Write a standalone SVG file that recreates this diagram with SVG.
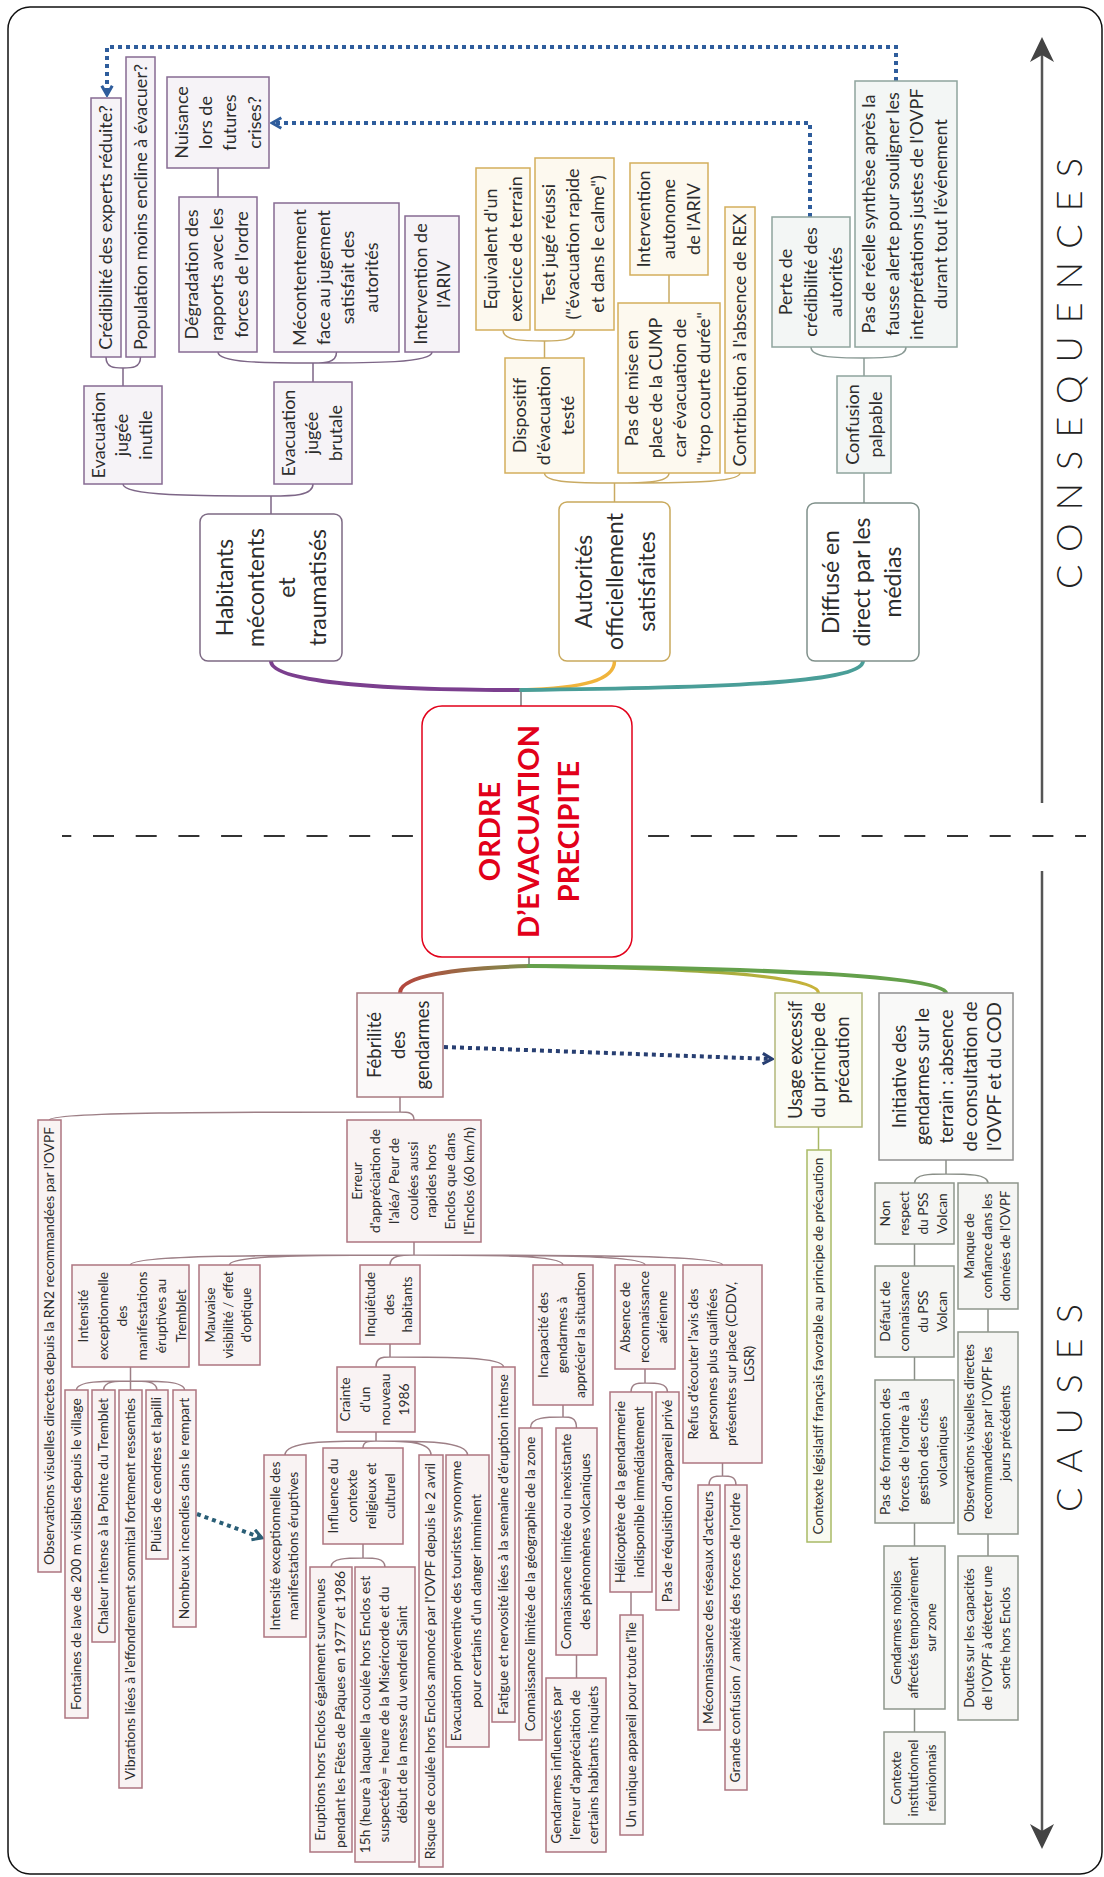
<svg xmlns="http://www.w3.org/2000/svg" width="1104" height="1877" viewBox="0 0 1104 1877">
<defs>
<style>
text{font-family:Lato,'Open Sans',sans-serif;fill:#2d2d2d;text-anchor:middle}
.t1{font-size:23px}
.t2{font-size:18px}
.k1{font-size:18.5px}
.k2{font-size:13.8px}
.k3{font-size:13.2px}
.ttl{font-size:29px;font-weight:700;fill:#e2001a}
.big{font-size:36px;font-weight:300;fill:#222}
rect{stroke-width:1.5}
.b1{fill:#fff}
.bp{fill:#f6f3f7;stroke:#876b93}
.bo{fill:#fdf9ef;stroke:#d3ae5c}
.bg{fill:#f3f6f5;stroke:#8fa49d}
.br{fill:#f9f3f3;stroke:#ad7580}
.by{fill:#fafbf1;stroke:#a9ba66}
.bn{fill:#f5f5f3;stroke:#8e968c}
.ln path{fill:none;stroke-width:1.5}
.cp{stroke:#7d6687}
.co{stroke:#c9aa62}
.cg{stroke:#8a9a95}
.cr{stroke:#9d7f86}
.cy{stroke:#a9b866}
.cn{stroke:#8a8f88}
.dot{fill:none;stroke-width:4;stroke-dasharray:4 4}
</style>
<marker id="ahB" viewBox="0 0 12 12" refX="10" refY="6" markerWidth="14" markerHeight="14" markerUnits="userSpaceOnUse" orient="auto"><path d="M2,1.5 L10,6 L2,10.5" fill="none" stroke="#2f5d9c" stroke-width="2.6"/></marker>
<marker id="ahN" viewBox="0 0 12 12" refX="10" refY="6" markerWidth="14" markerHeight="14" markerUnits="userSpaceOnUse" orient="auto"><path d="M2,1.5 L10,6 L2,10.5" fill="none" stroke="#283f72" stroke-width="2.6"/></marker>
<marker id="ahT" viewBox="0 0 12 12" refX="10" refY="6" markerWidth="14" markerHeight="14" markerUnits="userSpaceOnUse" orient="auto"><path d="M2,1.5 L10,6 L2,10.5" fill="none" stroke="#2a5e76" stroke-width="2.6"/></marker>
<linearGradient id="gFeb" gradientUnits="userSpaceOnUse" x1="529" y1="0" x2="400" y2="0"><stop offset="0" stop-color="#7d8f4c"/><stop offset="1" stop-color="#b5463e"/></linearGradient>
<linearGradient id="gUs" gradientUnits="userSpaceOnUse" x1="529" y1="0" x2="818" y2="0"><stop offset="0" stop-color="#5f9f45"/><stop offset="1" stop-color="#c9b33a"/></linearGradient>
</defs>
<rect x="0" y="0" width="1104" height="1877" fill="#fff"/>
<rect x="8" y="7" width="1094" height="1867" rx="22" fill="none" stroke="#111" stroke-width="2.5"/>

<g id="axes">
<path d="M62,836 H1086" stroke="#333" stroke-width="2" stroke-dasharray="21 21.7" stroke-dashoffset="11.7" fill="none"/>
<path d="M1042,803 V55" stroke="#555" stroke-width="2.5" fill="none"/>
<polygon points="1042,37 1054,62 1042,55 1030,62" fill="#444"/>
<path d="M1042,871 V1831" stroke="#555" stroke-width="2.5" fill="none"/>
<polygon points="1042,1849 1030,1824 1042,1831 1054,1824" fill="#444"/>
<text class="big" transform="translate(1082 373.5) rotate(-90)" x="0" y="0" textLength="431" lengthAdjust="spacing">CONSEQUENCES</text>
<text class="big" transform="translate(1082 1408) rotate(-90)" x="0" y="0" textLength="208" lengthAdjust="spacing">CAUSES</text>
</g>

<g id="connectors">
<g class="ln">
<path class="cp" d="M271,514 V496 M271,496 C197,496 123,496 123,484 M271,496 C292,496 313,496 313,484"/>
<path class="cp" d="M123,386 V368 M123,368 C114.5,368 106,368 106,357 M123,368 C131.75,368 140.5,368 140.5,357"/>
<path class="cp" d="M313,382 V363 M313,363 C265.5,363 218,363 218,352 M313,363 C324.75,363 336.5,363 336.5,352 M313,363 C372.5,363 432,363 432,352"/>
<path class="cp" d="M218,197 V168"/>
<path class="co" d="M614.5,502 V483 M614.5,483 C579.5,483 544.5,483 544.5,473 M614.5,483 C641.75,483 669,483 669,473 M614.5,483 C677.25,483 740,483 740,473"/>
<path class="co" d="M544.5,358 V341 M544.5,341 C523.75,341 503,341 503,330 M544.5,341 C559.5,341 574.5,341 574.5,330"/>
<path class="co" d="M669,303 V275"/>
<path class="cg" d="M864,503 V473 M864,376 V358 M864,358 C837.5,358 811,358 811,347 M864,358 C885,358 906,358 906,347"/>
<path stroke="#777" d="M521,706 V690 M529,957 V966"/>
<path class="cr" d="M400,1097 V1112 M400,1112 C224.75,1112 49.5,1112 49.5,1120 M400,1112 C407,1112 414,1112 414,1120"/>
<path class="cr" d="M414,1242 V1255 M414,1255 C272.25,1255 130.5,1255 130.5,1265 M414,1255 C321.75,1255 229.5,1255 229.5,1265 M414,1255 C402,1255 390,1255 390,1265 M414,1255 C488.5,1255 563,1255 563,1265 M414,1255 C529.5,1255 645,1255 645,1265 M414,1255 C568.25,1255 722.5,1255 722.5,1265"/>
<path class="cr" d="M130.5,1367 V1390 M130.5,1381 C103.5,1381 76.5,1381 76.5,1390 M130.5,1381 C117,1381 103.5,1381 103.5,1390 M130.5,1381 C143.75,1381 157,1381 157,1390 M130.5,1381 C157.5,1381 184.5,1381 184.5,1390"/>
<path class="cr" d="M390,1344 V1357 M390,1357 C383,1357 376,1357 376,1367 M390,1357 C446.75,1357 503.5,1357 503.5,1367"/>
<path class="cr" d="M376,1432 V1441 M376,1441 C330.5,1441 285,1441 285,1455 M376,1441 C369.5,1441 363,1441 363,1448 M376,1441 C403.5,1441 431,1441 431,1455 M376,1441 C421.75,1441 467.5,1441 467.5,1455"/>
<path class="cr" d="M363,1544 V1558 M363,1558 C347,1558 331,1558 331,1567 M363,1558 C374,1558 385,1558 385,1567"/>
<path class="cr" d="M563,1405 V1417 M563,1417 C546.75,1417 530.5,1417 530.5,1428 M563,1417 C569.75,1417 576.5,1417 576.5,1428 M576.5,1655 V1678"/>
<path class="cr" d="M645,1369 V1383 M645,1383 C638,1383 631,1383 631,1392 M645,1383 C656.25,1383 667.5,1383 667.5,1392 M631,1592 V1615"/>
<path class="cr" d="M722.5,1463 V1476 M722.5,1476 C715.75,1476 709,1476 709,1485 M722.5,1476 C729.25,1476 736,1476 736,1485"/>
<path class="cy" d="M818.5,1127 V1150"/>
<path class="cn" d="M946,1160 V1174 M946,1174 C930.25,1174 914.5,1174 914.5,1183 M946,1174 C967,1174 988,1174 988,1183"/>
<path class="cn" d="M914.5,1244 V1266 M914.5,1357 V1380 M914.5,1523 V1546 M914.5,1709 V1732 M988,1309 V1332 M988,1534 V1556"/>
</g>
<g fill="none" stroke-linecap="round">
<path d="M521,690 C400,690 271,684 271,661" stroke="#7b3f8e" stroke-width="4"/>
<path d="M521,690 C585,688 614.5,680 614.5,661" stroke="#f0b43c" stroke-width="3.5"/>
<path d="M521,690 C700,688 863,684 863,661" stroke="#4a9e98" stroke-width="4"/>
<path d="M529,966 C455,968 400,976 400,993" stroke="url(#gFeb)" stroke-width="4"/>
<path d="M529,966 C700,968 818.5,976 818.5,993" stroke="url(#gUs)" stroke-width="3.5"/>
<path d="M529,966 C760,968 946,976 946,993" stroke="#64a04b" stroke-width="4"/>
</g>
<path class="dot" stroke="#2f5d9c" d="M896,81 V47 H107 V95" marker-end="url(#ahB)"/>
<path class="dot" stroke="#2f5d9c" d="M810,217 V123 H272" marker-end="url(#ahB)"/>
<path class="dot" stroke="#283f72" d="M444,1047 L772,1059" marker-end="url(#ahN)"/>
<path class="dot" stroke="#2a5e76" d="M197,1514 L262,1538" marker-end="url(#ahT)"/>
</g>

<g id="n-center"><rect x="422" y="706" width="210" height="251" rx="20" fill="#fff" stroke="#e2001a" stroke-width="3.5"/><text class="ttl" transform="rotate(-90 527 831.5)"><tspan x="527" y="804.9">ORDRE</tspan><tspan x="527" y="843.9">D’EVACUATION</tspan><tspan x="527" y="883.9">PRECIPITE</tspan></text></g>

<g id="c-habitants"><rect class="b1" x="200" y="514" width="142" height="147" rx="8" stroke="#7d6a84"/><text class="t1" transform="rotate(-90 271 587.5)"><tspan x="271" y="549.5">Habitants</tspan><tspan x="271" y="580.5">mécontents</tspan><tspan x="271" y="611.5">et</tspan><tspan x="271" y="642.5">traumatisés</tspan></text></g>
<g id="c-autorites"><rect class="b1" x="559" y="502" width="111" height="159" rx="8" stroke="#c9a95c"/><text class="t1" transform="rotate(-90 614.5 581.5)"><tspan x="614.5" y="559">Autorités</tspan><tspan x="614.5" y="590">officiellement</tspan><tspan x="614.5" y="622">satisfaites</tspan></text></g>
<g id="c-diffuse"><rect class="b1" x="807" y="503" width="112" height="158" rx="8" stroke="#7f908a"/><text class="t1" transform="rotate(-90 863 582)"><tspan x="863" y="558">Diffusé en</tspan><tspan x="863" y="589">direct par les</tspan><tspan x="863" y="620">médias</tspan></text></g>

<g id="p-inutile"><rect class="bp" x="84" y="386" width="78" height="98"/><text class="t2" transform="rotate(-90 123 435)"><tspan x="123" y="416.5">Evacuation</tspan><tspan x="123" y="440">jugée</tspan><tspan x="123" y="463.5">inutile</tspan></text></g>
<g id="p-credibilite"><rect class="bp" x="91" y="98" width="30" height="259"/><text class="t2" transform="rotate(-90 106 227.5)"><tspan x="106" y="233.2">Crédibilité des experts réduite?</tspan></text></g>
<g id="p-population"><rect class="bp" x="126" y="57" width="29" height="300"/><text class="t2" transform="rotate(-90 140.5 207)"><tspan x="140.5" y="213.2">Population moins encline à évacuer?</tspan></text></g>
<g id="p-nuisance"><rect class="bp" x="167" y="77" width="102" height="91"/><text class="t2" transform="rotate(-90 218 122.5)"><tspan x="218" y="92.2">Nuisance</tspan><tspan x="218" y="116.2">lors de</tspan><tspan x="218" y="140.2">futures</tspan><tspan x="218" y="165.2">crises?</tspan></text></g>
<g id="p-degradation"><rect class="bp" x="179" y="197" width="78" height="155"/><text class="t2" transform="rotate(-90 218 274.5)"><tspan x="218" y="254.2">Dégradation des</tspan><tspan x="218" y="279.2">rapports avec les</tspan><tspan x="218" y="304.2">forces de l'ordre</tspan></text></g>
<g id="p-mecontentement"><rect class="bp" x="274" y="203" width="125" height="149"/><text class="t2" transform="rotate(-90 336.5 277.5)"><tspan x="336.5" y="246.7">Mécontentement</tspan><tspan x="336.5" y="270.7">face au jugement</tspan><tspan x="336.5" y="294.7">satisfait des</tspan><tspan x="336.5" y="318.7">autorités</tspan></text></g>
<g id="p-ariv"><rect class="bp" x="405" y="216" width="54" height="136"/><text class="t2" transform="rotate(-90 432 284)"><tspan x="432" y="278.7">Intervention de</tspan><tspan x="432" y="301.7">l'ARIV</tspan></text></g>
<g id="p-brutale"><rect class="bp" x="274" y="382" width="78" height="102"/><text class="t2" transform="rotate(-90 313 433)"><tspan x="313" y="414.7">Evacuation</tspan><tspan x="313" y="437.7">jugée</tspan><tspan x="313" y="461.7">brutale</tspan></text></g>

<g id="o-exercice"><rect class="bo" x="476" y="168" width="54" height="162"/><text class="t2" transform="rotate(-90 503 249)"><tspan x="503" y="242.7">Equivalent d'un</tspan><tspan x="503" y="267.7">exercice de terrain</tspan></text></g>
<g id="o-test"><rect class="bo" x="535" y="158" width="79" height="172"/><text class="t2" transform="rotate(-90 574.5 244)"><tspan x="574.5" y="224.2">Test jugé réussi</tspan><tspan x="574.5" y="248.2">("évacuation rapide</tspan><tspan x="574.5" y="273.2">et dans le calme")</tspan></text></g>
<g id="o-dispositif"><rect class="bo" x="505" y="358" width="79" height="115"/><text class="t2" transform="rotate(-90 544.5 415.5)"><tspan x="544.5" y="396.7">Dispositif</tspan><tspan x="544.5" y="420.7">d'évacuation</tspan><tspan x="544.5" y="444.7">testé</tspan></text></g>
<g id="o-autonome"><rect class="bo" x="630" y="163" width="78" height="112"/><text class="t2" transform="rotate(-90 669 219)"><tspan x="669" y="199.7">Intervention</tspan><tspan x="669" y="224.7">autonome</tspan><tspan x="669" y="249.7">de l'ARIV</tspan></text></g>
<g id="o-cump"><rect class="bo" x="618" y="303" width="102" height="170"/><text class="t2" transform="rotate(-90 669 388)"><tspan x="669" y="356.7">Pas de mise en</tspan><tspan x="669" y="380.7">place de la CUMP</tspan><tspan x="669" y="404.7">car évacuation de</tspan><tspan x="669" y="428.7">"trop courte durée"</tspan></text></g>
<g id="o-rex"><rect class="bo" x="725" y="207" width="30" height="266"/><text class="t2" transform="rotate(-90 740 340)"><tspan x="740" y="345.7">Contribution à l'absence de REX</tspan></text></g>

<g id="g-perte"><rect class="bg" x="772" y="217" width="78" height="130"/><text class="t2" transform="rotate(-90 811 282)"><tspan x="811" y="262.7">Perte de</tspan><tspan x="811" y="287.7">crédibilité des</tspan><tspan x="811" y="312.7">autorités</tspan></text></g>
<g id="g-synthese"><rect class="bg" x="855" y="81" width="102" height="266"/><text class="t2" transform="rotate(-90 906 214)"><tspan x="906" y="182.7">Pas de réelle synthèse après la</tspan><tspan x="906" y="206.7">fausse alerte pour souligner les</tspan><tspan x="906" y="230.7">interprétations justes de l'OVPF</tspan><tspan x="906" y="254.7">durant tout l'événement</tspan></text></g>
<g id="g-confusion"><rect class="bg" x="837" y="376" width="54" height="97"/><text class="t2" transform="rotate(-90 864 424.5)"><tspan x="864" y="419.2">Confusion</tspan><tspan x="864" y="442.2">palpable</tspan></text></g>

<g id="k-febrilite"><rect fill="#fbf9f9" stroke="#a87a80" x="357" y="993" width="86" height="104"/><text class="k1" transform="rotate(-90 400 1045)"><tspan x="400" y="1025.9">Fébrilité</tspan><tspan x="400" y="1049.9">des</tspan><tspan x="400" y="1073.9">gendarmes</tspan></text></g>
<g id="k-usage"><rect fill="#fbfbf4" stroke="#b3b87a" x="775" y="993" width="87" height="134"/><text class="k1" transform="rotate(-90 818.5 1060)"><tspan x="818.5" y="1043.4">Usage excessif</tspan><tspan x="818.5" y="1066.9">du principe de</tspan><tspan x="818.5" y="1090.4">précaution</tspan></text></g>
<g id="k-initiative"><rect fill="#f9f9f8" stroke="#8f8f8f" x="879" y="993" width="134" height="167"/><text class="k1" transform="rotate(-90 946 1076.5)"><tspan x="946" y="1036.4">Initiative des</tspan><tspan x="946" y="1059.4">gendarmes sur le</tspan><tspan x="946" y="1083.4">terrain : absence</tspan><tspan x="946" y="1107.4">de consultation de</tspan><tspan x="946" y="1131.4">l'OVPF et du COD</tspan></text></g>

<g id="r-observations"><rect class="br" x="38" y="1120" width="23" height="452"/><text class="k2" transform="rotate(-90 49.5 1346)"><tspan x="49.5" y="1350.1">Observations visuelles directes depuis la RN2 recommandées par l'OVPF</tspan></text></g>
<g id="r-intensite"><rect class="br" x="72" y="1265" width="117" height="102"/><text class="k2" transform="rotate(-90 130.5 1316)"><tspan x="130.5" y="1273.6">Intensité</tspan><tspan x="130.5" y="1293.1">exceptionnelle</tspan><tspan x="130.5" y="1312.6">des</tspan><tspan x="130.5" y="1332.1">manifestations</tspan><tspan x="130.5" y="1351.6">éruptives au</tspan><tspan x="130.5" y="1371.1">Tremblet</tspan></text></g>
<g id="r-fontaines"><rect class="br" x="65" y="1390" width="23" height="328"/><text class="k2" transform="rotate(-90 76.5 1554)"><tspan x="76.5" y="1558.1">Fontaines de lave de 200 m visibles depuis le village</tspan></text></g>
<g id="r-chaleur"><rect class="br" x="92" y="1390" width="23" height="252"/><text class="k2" transform="rotate(-90 103.5 1516)"><tspan x="103.5" y="1520.1">Chaleur intense à la Pointe du Tremblet</tspan></text></g>
<g id="r-vibrations"><rect class="br" x="119" y="1390" width="23" height="398"/><text class="k2" transform="rotate(-90 130.5 1589)"><tspan x="130.5" y="1593.1">Vibrations liées à l'effondrement sommital fortement ressenties</tspan></text></g>
<g id="r-pluies"><rect class="br" x="146" y="1390" width="22" height="169"/><text class="k2" transform="rotate(-90 157 1474.5)"><tspan x="157" y="1478.6">Pluies de cendres et lapilli</tspan></text></g>
<g id="r-incendies"><rect class="br" x="173" y="1390" width="23" height="237"/><text class="k2" transform="rotate(-90 184.5 1508.5)"><tspan x="184.5" y="1512.6">Nombreux incendies dans le rempart</tspan></text></g>
<g id="r-visibilite"><rect class="br" x="199" y="1265" width="61" height="100"/><text class="k3" transform="rotate(-90 229.5 1315)"><tspan x="229.5" y="1300.6">Mauvaise</tspan><tspan x="229.5" y="1318.6">visibilité / effet</tspan><tspan x="229.5" y="1336.6">d'optique</tspan></text></g>
<g id="r-erreur"><rect class="br" x="347" y="1120" width="134" height="122"/><text class="k2" transform="rotate(-90 414 1181)"><tspan x="414" y="1128.5">Erreur</tspan><tspan x="414" y="1147.2">d'appréciation de</tspan><tspan x="414" y="1165.9">l'aléa/ Peur de</tspan><tspan x="414" y="1184.6">coulées aussi</tspan><tspan x="414" y="1203.3">rapides hors</tspan><tspan x="414" y="1222">Enclos que dans</tspan><tspan x="414" y="1240.7">l'Enclos (60 km/h)</tspan></text></g>
<g id="r-inquietude"><rect class="br" x="360" y="1265" width="60" height="79"/><text class="k2" transform="rotate(-90 390 1304.5)"><tspan x="390" y="1289.6">Inquiétude</tspan><tspan x="390" y="1308.1">des</tspan><tspan x="390" y="1326.6">habitants</tspan></text></g>
<g id="r-crainte"><rect class="br" x="337" y="1367" width="78" height="65"/><text class="k2" transform="rotate(-90 376 1399.5)"><tspan x="376" y="1373.6">Crainte</tspan><tspan x="376" y="1393.3">d'un</tspan><tspan x="376" y="1413">nouveau</tspan><tspan x="376" y="1432.7">1986</tspan></text></g>
<g id="r-fatigue"><rect class="br" x="492" y="1367" width="23" height="355"/><text class="k2" transform="rotate(-90 503.5 1544.5)"><tspan x="503.5" y="1548.5">Fatigue et nervosité liées à la semaine d'éruption intense</tspan></text></g>
<g id="r-intensite2"><rect class="br" x="264" y="1455" width="42" height="182"/><text class="k2" transform="rotate(-90 285 1546)"><tspan x="285" y="1540.6">Intensité exceptionnelle des</tspan><tspan x="285" y="1558.6">manifestations éruptives</tspan></text></g>
<g id="r-influence"><rect class="br" x="323" y="1448" width="80" height="96"/><text class="k2" transform="rotate(-90 363 1496)"><tspan x="363" y="1471.1">Influence du</tspan><tspan x="363" y="1490.1">contexte</tspan><tspan x="363" y="1509.1">religieux et</tspan><tspan x="363" y="1528.1">culturel</tspan></text></g>
<g id="r-risque"><rect class="br" x="419" y="1455" width="24" height="412"/><text class="k2" transform="rotate(-90 431 1661)"><tspan x="431" y="1665">Risque de coulée hors Enclos annoncé par l'OVPF depuis le 2 avril</tspan></text></g>
<g id="r-touristes"><rect class="br" x="446" y="1455" width="43" height="292"/><text class="k2" transform="rotate(-90 467.5 1601)"><tspan x="467.5" y="1594.6">Evacuation préventive des touristes synonyme</tspan><tspan x="467.5" y="1614.6">pour certains d'un danger imminent</tspan></text></g>
<g id="r-eruptions"><rect class="br" x="310" y="1567" width="42" height="285"/><text class="k2" transform="rotate(-90 331 1709.5)"><tspan x="331" y="1703.6">Eruptions hors Enclos également survenues</tspan><tspan x="331" y="1723.6">pendant les Fêtes de Pâques en 1977 et 1986</tspan></text></g>
<g id="r-15h"><rect class="br" x="355" y="1567" width="60" height="295"/><text class="k2" transform="rotate(-90 385 1714.5)"><tspan x="385" y="1699.6">15h (heure à laquelle la coulée hors Enclos est</tspan><tspan x="385" y="1718.1">suspectée) = heure de la Miséricorde et du</tspan><tspan x="385" y="1736.6">début de la messe du vendredi Saint</tspan></text></g>
<g id="r-incapacite"><rect class="br" x="533" y="1265" width="60" height="140"/><text class="k2" transform="rotate(-90 563 1335)"><tspan x="563" y="1320.1">Incapacité des</tspan><tspan x="563" y="1338.6">gendarmes à</tspan><tspan x="563" y="1357.1">apprécier la situation</tspan></text></g>
<g id="r-geographie"><rect class="br" x="519" y="1428" width="23" height="312"/><text class="k2" transform="rotate(-90 530.5 1584)"><tspan x="530.5" y="1588">Connaissance limitée de la géographie de la zone</tspan></text></g>
<g id="r-phenomenes"><rect class="br" x="556" y="1428" width="41" height="227"/><text class="k2" transform="rotate(-90 576.5 1541.5)"><tspan x="576.5" y="1535.6">Connaissance limitée ou inexistante</tspan><tspan x="576.5" y="1554.6">des phénomènes volcaniques</tspan></text></g>
<g id="r-influences"><rect class="br" x="546" y="1678" width="60" height="174"/><text class="k2" transform="rotate(-90 576 1765)"><tspan x="576" y="1750.1">Gendarmes influencés par</tspan><tspan x="576" y="1768.6">l'erreur d'appréciation de</tspan><tspan x="576" y="1787.1">certains habitants inquiets</tspan></text></g>
<g id="r-absence"><rect class="br" x="615" y="1265" width="60" height="104"/><text class="k2" transform="rotate(-90 645 1317)"><tspan x="645" y="1302.1">Absence de</tspan><tspan x="645" y="1320.6">reconnaissance</tspan><tspan x="645" y="1339.1">aérienne</tspan></text></g>
<g id="r-helicoptere"><rect class="br" x="610" y="1392" width="42" height="200"/><text class="k2" transform="rotate(-90 631 1492)"><tspan x="631" y="1486.1">Hélicoptère de la gendarmerie</tspan><tspan x="631" y="1505.1">indisponible immédiatement</tspan></text></g>
<g id="r-requisition"><rect class="br" x="656" y="1392" width="23" height="218"/><text class="k2" transform="rotate(-90 667.5 1501)"><tspan x="667.5" y="1505">Pas de réquisition d'appareil privé</tspan></text></g>
<g id="r-unique"><rect class="br" x="620" y="1615" width="23" height="220"/><text class="k2" transform="rotate(-90 631.5 1725)"><tspan x="631.5" y="1729">Un unique appareil pour toute l'île</tspan></text></g>
<g id="r-refus"><rect class="br" x="683" y="1265" width="79" height="198"/><text class="k2" transform="rotate(-90 722.5 1364)"><tspan x="722.5" y="1339.6">Refus d'écouter l'avis des</tspan><tspan x="722.5" y="1358.3">personnes plus qualifiées</tspan><tspan x="722.5" y="1377">présentes sur place (CDDV,</tspan><tspan x="722.5" y="1395.7">LGSR)</tspan></text></g>
<g id="r-reseaux"><rect class="br" x="698" y="1485" width="22" height="245"/><text class="k2" transform="rotate(-90 709 1607.5)"><tspan x="709" y="1611.5">Méconnaissance des réseaux d'acteurs</tspan></text></g>
<g id="r-grande"><rect class="br" x="725" y="1485" width="22" height="305"/><text class="k2" transform="rotate(-90 736 1637.5)"><tspan x="736" y="1641.5">Grande confusion / anxiété des forces de l'ordre</tspan></text></g>

<g id="y-contexte"><rect class="by" x="807" y="1150" width="24" height="392"/><text class="k2" transform="rotate(-90 819 1346)"><tspan x="819" y="1350">Contexte législatif français favorable au principe de précaution</tspan></text></g>

<g id="n-nonrespect"><rect class="bn" x="875" y="1183" width="79" height="61"/><text class="k2" transform="rotate(-90 914.5 1213.5)"><tspan x="914.5" y="1188.6">Non</tspan><tspan x="914.5" y="1207.6">respect</tspan><tspan x="914.5" y="1226.6">du PSS</tspan><tspan x="914.5" y="1245.6">Volcan</tspan></text></g>
<g id="n-defaut"><rect class="bn" x="875" y="1266" width="79" height="91"/><text class="k2" transform="rotate(-90 914.5 1311.5)"><tspan x="914.5" y="1286.6">Défaut de</tspan><tspan x="914.5" y="1305.6">connaissance</tspan><tspan x="914.5" y="1324.6">du PSS</tspan><tspan x="914.5" y="1343.6">Volcan</tspan></text></g>
<g id="n-formation"><rect class="bn" x="875" y="1380" width="79" height="143"/><text class="k2" transform="rotate(-90 914.5 1451.5)"><tspan x="914.5" y="1426.6">Pas de formation des</tspan><tspan x="914.5" y="1445.6">forces de l'ordre à la</tspan><tspan x="914.5" y="1464.6">gestion des crises</tspan><tspan x="914.5" y="1483.6">volcaniques</tspan></text></g>
<g id="n-mobiles"><rect class="bn" x="884" y="1546" width="61" height="163"/><text class="k3" transform="rotate(-90 914.5 1627.5)"><tspan x="914.5" y="1613.6">Gendarmes mobiles</tspan><tspan x="914.5" y="1631.1">affectés temporairement</tspan><tspan x="914.5" y="1648.6">sur zone</tspan></text></g>
<g id="n-institutionnel"><rect class="bn" x="884" y="1732" width="61" height="92"/><text class="k3" transform="rotate(-90 914.5 1778)"><tspan x="914.5" y="1764.1">Contexte</tspan><tspan x="914.5" y="1781.6">institutionnel</tspan><tspan x="914.5" y="1799.1">réunionnais</tspan></text></g>
<g id="n-confiance"><rect class="bn" x="958" y="1183" width="60" height="126"/><text class="k3" transform="rotate(-90 988 1246)"><tspan x="988" y="1231.6">Manque de</tspan><tspan x="988" y="1249.6">confiance dans les</tspan><tspan x="988" y="1267.6">données de l'OVPF</tspan></text></g>
<g id="n-observations"><rect class="bn" x="958" y="1332" width="60" height="202"/><text class="k3" transform="rotate(-90 988 1433)"><tspan x="988" y="1418.6">Observations visuelles directes</tspan><tspan x="988" y="1436.6">recommandées par l'OVPF les</tspan><tspan x="988" y="1454.6">jours précédents</tspan></text></g>
<g id="n-doutes"><rect class="bn" x="958" y="1556" width="60" height="164"/><text class="k3" transform="rotate(-90 988 1638)"><tspan x="988" y="1623.6">Doutes sur les capacités</tspan><tspan x="988" y="1641.6">de l'OVPF à détecter une</tspan><tspan x="988" y="1659.6">sortie hors Enclos</tspan></text></g>
</svg>
